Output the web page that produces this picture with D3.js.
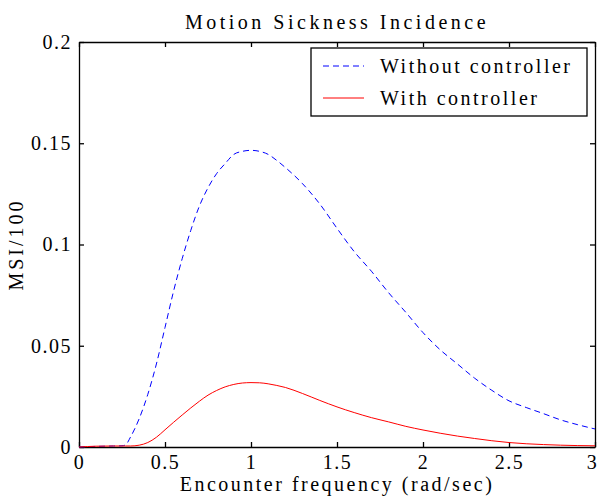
<!doctype html>
<html lang="en">
<head>
<meta charset="UTF-8">
<title>Motion Sickness Incidence</title>
<style>
  body { margin: 0; background: #fff; }
  text { font-family: "Liberation Serif", "Times New Roman", serif; fill: #000; }
</style>
</head>
<body>
<div class="chart"></div>
<script src="https://d3js.org/d3.v7.min.js"></script>
<script>
  const freq = [0, 0.1, 0.2, 0.25, 0.27, 0.3, 0.35, 0.4, 0.45, 0.5, 0.55, 0.6, 0.65, 0.7, 0.75, 0.8, 0.85, 0.9, 0.95, 1.0,
    1.05, 1.1, 1.15, 1.2, 1.3, 1.4, 1.5, 1.6, 1.7, 1.8, 1.9, 2.0, 2.1, 2.2, 2.3, 2.4, 2.5, 2.6, 2.7, 2.8, 2.9, 3.0]
  const withoutCtrl = [0, 0.0003, 0.0005, 0.0006, 0.001, 0.005, 0.014, 0.026, 0.041, 0.059, 0.077, 0.093, 0.107, 0.119, 0.128,
    0.135, 0.140, 0.1445, 0.146, 0.1465, 0.146, 0.1445, 0.1415, 0.138, 0.130, 0.120, 0.108, 0.0965, 0.0868, 0.0762, 0.0665,
    0.0565, 0.048, 0.041, 0.034, 0.028, 0.0228, 0.0195, 0.0165, 0.0134, 0.011, 0.0089]
  const withCtrl = [0, 0.0004, 0.0005, 0.0005, 0.0005, 0.0005, 0.0009, 0.0022, 0.0048, 0.0085, 0.0122, 0.0158, 0.0193, 0.0226, 0.0256,
    0.0279, 0.0297, 0.0309, 0.0316, 0.0318, 0.0317, 0.0312, 0.0304, 0.0294, 0.0264, 0.0230, 0.0198, 0.0170, 0.0145, 0.0124, 0.0102,
    0.0084, 0.0068, 0.0054, 0.0042, 0.0031, 0.0022, 0.0016, 0.0012, 0.0009, 0.0007, 0.0006]
  const xTicks = [0, 0.5, 1, 1.5, 2, 2.5, 3]
  const yTicks = [0, 0.05, 0.1, 0.15, 0.2]
  const seriesNames = ['Without controller', 'With controller']

  const width = 599
  const height = 498
  const m = { left: 79, right: 4, top: 42, bottom: 51 }

  const x = d3.scaleLinear().domain([0, 3]).range([m.left, width - m.right])
  const y = d3.scaleLinear().domain([0, 0.2]).range([height - m.bottom, m.top])

  const svg = d3.select('.chart')
    .append('svg')
    .attr('width', width)
    .attr('height', height)

  const fmt = d => d3.format('~g')(d)

  // axes, ticks pointing inward, mirrored on top and right
  const xAxisG = svg.append('g')
    .attr('transform', `translate(0,${y(0)})`)
    .call(d3.axisBottom(x).tickValues(xTicks).tickFormat(fmt).tickSizeInner(-5).tickSizeOuter(0).tickPadding(8))
  svg.append('g')
    .attr('transform', `translate(0,${y(0.2)})`)
    .call(d3.axisTop(x).tickValues(xTicks).tickFormat('').tickSizeInner(-5).tickSizeOuter(0))
  svg.append('g')
    .attr('transform', `translate(${x(0)},0)`)
    .call(d3.axisLeft(y).tickValues(yTicks).tickFormat(fmt).tickSizeInner(-5).tickSizeOuter(0).tickPadding(7))
  svg.append('g')
    .attr('transform', `translate(${x(3)},0)`)
    .call(d3.axisRight(y).tickValues(yTicks).tickFormat('').tickSizeInner(-5).tickSizeOuter(0))

  svg.selectAll('.domain, .tick line').attr('stroke', '#000').attr('stroke-width', 1.3)
  svg.selectAll('.tick text')
    .style('font-size', '20px')
    .style('font-family', '"Liberation Serif", serif')
    .style('letter-spacing', '1.5px')
  // keep the last label inside the picture
  xAxisG.selectAll('.tick text').filter(d => d === 3).attr('dx', -3)

  const line = d3.line().x((d, i) => x(freq[i])).y(d => y(d)).curve(d3.curveMonotoneX)

  svg.append('path')
    .datum(withoutCtrl)
    .attr('fill', 'none')
    .attr('stroke', '#0000ff')
    .attr('stroke-width', 1)
    .attr('stroke-dasharray', '6,4')
    .attr('d', line)

  svg.append('path')
    .datum(withCtrl)
    .attr('fill', 'none')
    .attr('stroke', '#ff0000')
    .attr('stroke-width', 1)
    .attr('d', line)

  // titles
  svg.append('text')
    .attr('x', (x(0) + x(3)) / 2)
    .attr('y', 29)
    .attr('text-anchor', 'middle')
    .style('font-size', '20px')
    .style('letter-spacing', '3.5px')
    .text('Motion Sickness Incidence')

  svg.append('text')
    .attr('x', (x(0) + x(3)) / 2)
    .attr('y', 491)
    .attr('text-anchor', 'middle')
    .style('font-size', '20px')
    .style('letter-spacing', '2.5px')
    .text('Encounter frequency (rad/sec)')

  svg.append('text')
    .attr('transform', `translate(23,${(y(0) + y(0.2)) / 2}) rotate(-90)`)
    .attr('text-anchor', 'middle')
    .style('font-size', '20px')
    .style('letter-spacing', '3px')
    .text('MSI/100')

  // legend
  const legend = svg.append('g')
  legend.append('rect')
    .attr('x', 311).attr('y', 48).attr('width', 276).attr('height', 68)
    .attr('fill', '#fff').attr('stroke', '#000').attr('stroke-width', 1.3)
  const styles = [{ c: '#0000ff', dash: '6,4' }, { c: '#ff0000', dash: null }]
  seriesNames.forEach((name, i) => {
    const ly = 66 + i * 32
    legend.append('line')
      .attr('x1', 323).attr('x2', 364).attr('y1', ly).attr('y2', ly)
      .attr('stroke', styles[i].c).attr('stroke-width', 1)
      .attr('stroke-dasharray', styles[i].dash)
    legend.append('text')
      .attr('x', 380).attr('y', ly + 7)
      .style('font-size', '20px')
      .style('letter-spacing', '2.5px')
      .text(name)
  })
</script>
</body>
</html>
